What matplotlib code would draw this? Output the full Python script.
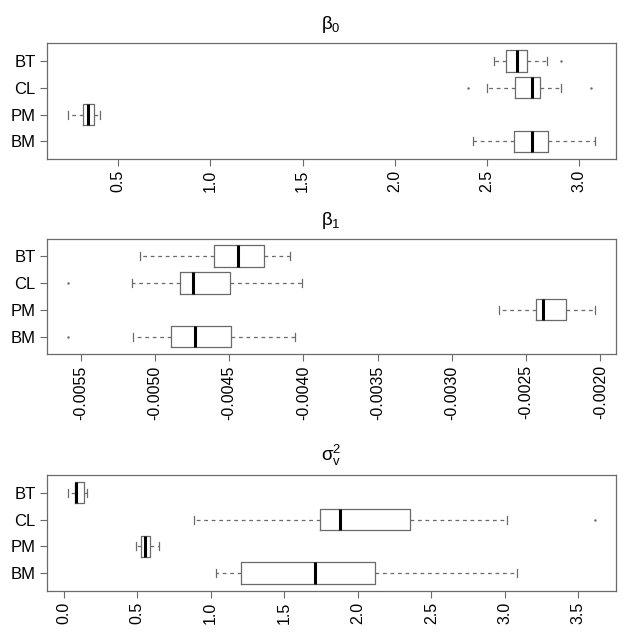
import numpy as np
import matplotlib
matplotlib.use("Agg")
import matplotlib.pyplot as plt

plt.rcParams['font.family'] = ['Liberation Sans', 'DejaVu Sans']
plt.rcParams['mathtext.fontset'] = 'custom'
plt.rcParams['mathtext.rm'] = 'Liberation Sans'
plt.rcParams['mathtext.it'] = 'Liberation Sans:italic'
plt.rcParams['axes.unicode_minus'] = False

# DATOS, orden: BT, CL, PM, BM
metodos = ["BT", "CL", "PM", "BM"]

b0_whislo = [2.538, 2.503, 0.226, 2.425]
b0_q1 = [2.604, 2.652, 0.310, 2.648]
b0_med = [2.665, 2.747, 0.338, 2.747]
b0_q3 = [2.719, 2.788, 0.370, 2.831]
b0_whishi = [2.827, 2.900, 0.401, 3.085]
b0_fliers = [[2.902], [2.399, 3.066], [], []]
b0_ticks = [0.5, 1.0, 1.5, 2.0, 2.5, 3.0]

b1_whislo = [-0.005102, -0.005155, -0.002686, -0.005145]
b1_q1 = [-0.004602, -0.004829, -0.002437, -0.004891]
b1_med = [-0.004439, -0.004746, -0.002387, -0.004728]
b1_q3 = [-0.004263, -0.004492, -0.002232, -0.004490]
b1_whishi = [-0.004092, -0.004011, -0.002039, -0.004057]
b1_fliers = [[], [-0.005586], [], [-0.005586]]
b1_ticks = [-0.0055, -0.0050, -0.0045, -0.0040, -0.0035, -0.0030, -0.0025, -0.0020]

s2_whislo = [0.028, 0.886, 0.492, 1.035]
s2_q1 = [0.078, 1.746, 0.524, 1.203]
s2_med = [0.087, 1.881, 0.551, 1.711]
s2_q3 = [0.139, 2.354, 0.589, 2.116]
s2_whishi = [0.157, 3.014, 0.648, 3.084]
s2_fliers = [[], [3.611], [], []]
s2_ticks = [0.0, 0.5, 1.0, 1.5, 2.0, 2.5, 3.0, 3.5]

paneles = [
    (r"$\mathrm{\beta}_0$", b0_whislo, b0_q1, b0_med, b0_q3, b0_whishi, b0_fliers, b0_ticks, "{:.1f}"),
    (r"$\mathrm{\beta}_1$", b1_whislo, b1_q1, b1_med, b1_q3, b1_whishi, b1_fliers, b1_ticks, "{:.4f}"),
    (r"$\mathrm{\sigma}_\mathrm{v}^2$", s2_whislo, s2_q1, s2_med, s2_q3, s2_whishi, s2_fliers, s2_ticks, "{:.1f}"),
]

gris = "#6a6a6a"
fig = plt.figure(figsize=(6.24, 6.36), dpi=100)
fondos = [0.750, 0.443, 0.071]

for (titulo, wlo, q1, med, q3, whi, fl, ticks, fmt), y0 in zip(paneles, fondos):
    ax = fig.add_axes([0.0748, y0, 0.912, 0.182])
    stats = []
    for i in range(len(metodos)):
        stats.append({"whislo": wlo[i], "q1": q1[i], "med": med[i], "q3": q3[i],
                      "whishi": whi[i], "fliers": fl[i], "label": metodos[i]})
    # R dibuja el primer grupo abajo
    pos = np.arange(len(metodos), 0, -1)
    ax.bxp(stats, positions=pos, vert=False, widths=0.8, capwidths=0.3,
           boxprops=dict(color=gris, lw=0.9),
           whiskerprops=dict(color=gris, lw=0.9, linestyle=(0, (3, 3))),
           capprops=dict(color=gris, lw=0.9),
           medianprops=dict(color="black", lw=2.2),
           flierprops=dict(marker=".", markersize=1.5, color=gris, markerfacecolor=gris, markeredgecolor=gris))

    todos = wlo + whi + [v for f in fl for v in f]
    lo, hi = min(todos), max(todos)
    r = hi - lo
    ax.set_xlim(lo - 0.04 * r, hi + 0.04 * r)
    ax.set_ylim(0.34, len(metodos) + 0.66)
    ax.set_xticks(ticks)
    ax.set_xticklabels([fmt.format(t) for t in ticks], rotation=90, fontsize=11.5)
    ax.set_yticks(pos)
    ax.set_yticklabels(metodos, fontsize=12)
    ax.tick_params(length=5, width=0.8, color=gris, pad=3)
    for s in ax.spines.values():
        s.set_color(gris)
        s.set_linewidth(0.9)
    ax.set_title(titulo, fontsize=13.5, pad=10)

fig.savefig("out.png", dpi=100)
